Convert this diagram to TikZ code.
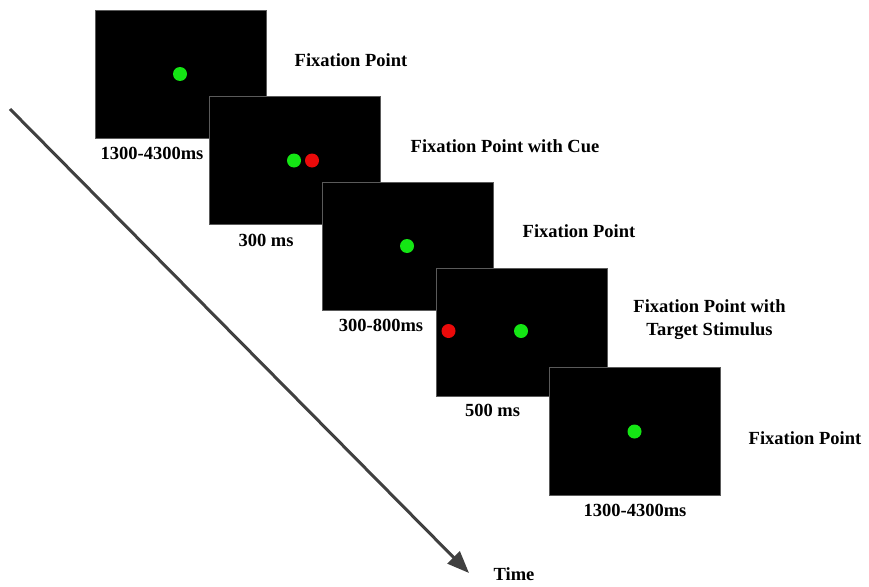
\documentclass[tikz,border=0pt]{standalone}
\usepackage{fontspec}
\setmainfont{Liberation Serif}
\usetikzlibrary{arrows.meta}
\definecolor{dotgreen}{RGB}{20,230,20}
\definecolor{dotred}{RGB}{235,10,10}
\definecolor{frame}{RGB}{90,90,90}
\definecolor{axis}{RGB}{64,64,64}
\tikzset{
  screen/.style={draw=frame, line width=1.2pt, fill=black, inner sep=0pt,
    minimum width=171pt, minimum height=128pt, anchor=north west},
  gdot/.style={circle, fill=dotgreen, inner sep=0pt, minimum size=14pt},
  rdot/.style={circle, fill=dotred, inner sep=0pt, minimum size=14pt},
  lbl/.style={font=\fontsize{18.5}{23}\selectfont\bfseries, inner sep=0pt, anchor=base, align=center},
}
\begin{document}
\begin{tikzpicture}[x=1pt, y=-1pt]
  \useasboundingbox (0,0) rectangle (869,586);

  % time axis
  \coordinate (tstart) at (10,109);
  \coordinate (tend) at (469,573);
  \draw[axis, line width=3pt, -{Triangle[length=22pt, width=17pt]}] (tstart) -- (tend);
  \node[lbl] (time) at (514,580) {Time};

  % screen 1
  \node[screen] (s1) at (95,10) {};
  \node[gdot] (s1g) at (180,74) {};
  \node[lbl] (d1) at (152,159) {1300-4300ms};
  \node[lbl] (t1) at (351,66.5) {Fixation Point};

  % screen 2
  \node[screen] (s2) at (208.5,96) {};
  \node[gdot] (s2g) at (294,160.5) {};
  \node[rdot] (s2r) at (312,160.5) {};
  \node[lbl] (d2) at (266,246) {300 ms};
  \node[lbl] (t2) at (505,152) {Fixation Point with Cue};

  % screen 3
  \node[screen] (s3) at (322,182) {};
  \node[gdot] (s3g) at (407,246) {};
  \node[lbl] (d3) at (381,331) {300-800ms};
  \node[lbl] (t3) at (579,237) {Fixation Point};

  % screen 4
  \node[screen] (s4) at (436,267.5) {};
  \node[rdot] (s4r) at (448.5,331) {};
  \node[gdot] (s4g) at (521,331) {};
  \node[lbl] (d4) at (492.5,416) {500 ms};
  \node[lbl, anchor=north] (t4) at (709.5,299.5) {Fixation Point with\\Target Stimulus};

  % screen 5
  \node[screen] (s5) at (549,367) {};
  \node[gdot] (s5g) at (634.5,431.5) {};
  \node[lbl] (d5) at (635,516) {1300-4300ms};
  \node[lbl] (t5) at (805,444) {Fixation Point};
\end{tikzpicture}
\end{document}
